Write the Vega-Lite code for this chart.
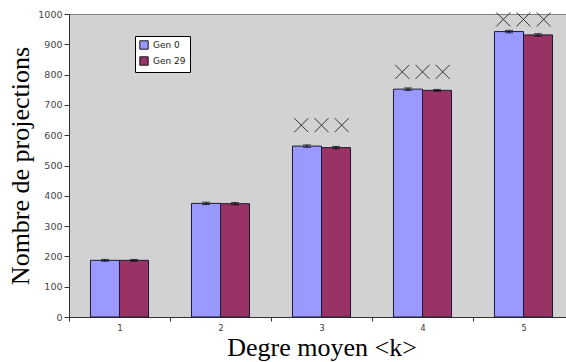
{
  "$schema": "https://vega.github.io/schema/vega-lite/v6.json",
  "autosize": "none",
  "width": 505,
  "height": 303,
  "padding": {"left": 69, "top": 14, "right": 0, "bottom": 45},
  "background": "white",
  "config": {
    "view": {"fill": "#d2d2d2", "stroke": "#808080", "strokeWidth": 1},
    "axis": {"grid": false}
  },
  "datasets": {
    "bars": [
      {"k": "1", "gen": "Gen 0", "value": 187, "lo": 184, "hi": 190},
      {"k": "1", "gen": "Gen 29", "value": 187, "lo": 184, "hi": 190},
      {"k": "2", "gen": "Gen 0", "value": 375, "lo": 371, "hi": 379},
      {"k": "2", "gen": "Gen 29", "value": 374, "lo": 370, "hi": 378},
      {"k": "3", "gen": "Gen 0", "value": 564, "lo": 560, "hi": 568},
      {"k": "3", "gen": "Gen 29", "value": 559, "lo": 555, "hi": 563},
      {"k": "4", "gen": "Gen 0", "value": 752, "lo": 748, "hi": 756},
      {"k": "4", "gen": "Gen 29", "value": 748, "lo": 745, "hi": 751},
      {"k": "5", "gen": "Gen 0", "value": 942, "lo": 938, "hi": 946},
      {"k": "5", "gen": "Gen 29", "value": 931, "lo": 927, "hi": 935}
    ],
    "marks": [
      {"k": "3", "slot": "a", "value": 633},
      {"k": "3", "slot": "b", "value": 633},
      {"k": "3", "slot": "c", "value": 633},
      {"k": "4", "slot": "a", "value": 809},
      {"k": "4", "slot": "b", "value": 809},
      {"k": "4", "slot": "c", "value": 809},
      {"k": "5", "slot": "a", "value": 982},
      {"k": "5", "slot": "b", "value": 982},
      {"k": "5", "slot": "c", "value": 982}
    ]
  },
  "encoding": {
    "x": {
      "field": "k", "type": "ordinal",
      "scale": {"paddingInner": 0, "paddingOuter": 0},
      "axis": {
        "title": "Degre moyen <k>",
        "titleFont": "Liberation Serif", "titleFontSize": 26, "titleFontWeight": "normal",
        "titleColor": "black", "titlePadding": 2,
        "labelAngle": 0, "labelFont": "DejaVu Sans", "labelFontSize": 8, "labelColor": "#333",
        "labelPadding": 3,
        "tickBand": "extent", "tickSize": 4, "tickColor": "#333", "domainColor": "#333"
      }
    }
  },
  "resolve": {"scale": {"xOffset": "independent"}},
  "layer": [
    {
      "data": {"name": "bars"},
      "mark": {"type": "bar", "stroke": "#1a1a33", "strokeWidth": 1},
      "encoding": {
        "xOffset": {"field": "gen", "type": "nominal", "scale": {"paddingInner": 0, "paddingOuter": 0.74}},
        "y": {
          "field": "value", "type": "quantitative",
          "scale": {"domain": [0, 1000], "nice": false},
          "axis": {
            "title": "Nombre de projections",
            "titleFont": "Liberation Serif", "titleFontSize": 26, "titleFontWeight": "normal",
            "titleColor": "black", "titlePadding": 4,
            "values": [0, 100, 200, 300, 400, 500, 600, 700, 800, 900, 1000],
            "format": "d", "labelOverlap": false,
            "labelFont": "DejaVu Sans", "labelFontSize": 9.5, "labelColor": "#444",
            "labelPadding": 2, "tickSize": 5, "tickColor": "#333", "domainColor": "#333"
          }
        },
        "color": {
          "field": "gen", "type": "nominal",
          "scale": {"domain": ["Gen 0", "Gen 29"], "range": ["#9999ff", "#993366"]},
          "legend": {
            "title": null, "orient": "none", "legendX": 66, "legendY": 22,
            "fillColor": "white", "strokeColor": "black", "padding": 4,
            "symbolType": "square", "symbolSize": 70, "symbolStrokeColor": "#111",
            "symbolStrokeWidth": 1,
            "labelFont": "DejaVu Sans", "labelFontSize": 9, "labelColor": "#222",
            "rowPadding": 2
          }
        }
      }
    },
    {
      "data": {"name": "bars"},
      "mark": {"type": "rule", "color": "black", "strokeWidth": 1},
      "encoding": {
        "xOffset": {"field": "gen", "type": "nominal", "scale": {"paddingInner": 0, "paddingOuter": 0.74}},
        "y": {"field": "lo", "type": "quantitative",
          "axis": {
            "title": "Nombre de projections",
            "titleFont": "Liberation Serif", "titleFontSize": 26, "titleFontWeight": "normal",
            "titleColor": "black", "titlePadding": 4,
            "values": [0, 100, 200, 300, 400, 500, 600, 700, 800, 900, 1000],
            "format": "d", "labelOverlap": false,
            "labelFont": "DejaVu Sans", "labelFontSize": 9.5, "labelColor": "#444",
            "labelPadding": 2, "tickSize": 5, "tickColor": "#333", "domainColor": "#333"
          }},
        "y2": {"field": "hi"}
      }
    },
    {
      "data": {"name": "bars"},
      "mark": {"type": "tick", "color": "black", "thickness": 1, "size": 8},
      "encoding": {
        "xOffset": {"field": "gen", "type": "nominal", "scale": {"paddingInner": 0, "paddingOuter": 0.74}},
        "y": {"field": "lo", "type": "quantitative",
          "axis": {
            "title": "Nombre de projections",
            "titleFont": "Liberation Serif", "titleFontSize": 26, "titleFontWeight": "normal",
            "titleColor": "black", "titlePadding": 4,
            "values": [0, 100, 200, 300, 400, 500, 600, 700, 800, 900, 1000],
            "format": "d", "labelOverlap": false,
            "labelFont": "DejaVu Sans", "labelFontSize": 9.5, "labelColor": "#444",
            "labelPadding": 2, "tickSize": 5, "tickColor": "#333", "domainColor": "#333"
          }}
      }
    },
    {
      "data": {"name": "bars"},
      "mark": {"type": "tick", "color": "black", "thickness": 1, "size": 8},
      "encoding": {
        "xOffset": {"field": "gen", "type": "nominal", "scale": {"paddingInner": 0, "paddingOuter": 0.74}},
        "y": {"field": "hi", "type": "quantitative",
          "axis": {
            "title": "Nombre de projections",
            "titleFont": "Liberation Serif", "titleFontSize": 26, "titleFontWeight": "normal",
            "titleColor": "black", "titlePadding": 4,
            "values": [0, 100, 200, 300, 400, 500, 600, 700, 800, 900, 1000],
            "format": "d", "labelOverlap": false,
            "labelFont": "DejaVu Sans", "labelFontSize": 9.5, "labelColor": "#444",
            "labelPadding": 2, "tickSize": 5, "tickColor": "#333", "domainColor": "#333"
          }}
      }
    },
    {
      "data": {"name": "marks"},
      "mark": {"type": "point", "shape": "M-1,-1L1,1M-1,1L1,-1", "size": 196, "stroke": "#333", "strokeWidth": 1, "filled": false, "opacity": 1},
      "encoding": {
        "xOffset": {"field": "slot", "type": "nominal", "scale": {"type": "band", "paddingInner": 0, "paddingOuter": 1.66}},
        "y": {"field": "value", "type": "quantitative",
          "axis": {
            "title": "Nombre de projections",
            "titleFont": "Liberation Serif", "titleFontSize": 26, "titleFontWeight": "normal",
            "titleColor": "black", "titlePadding": 4,
            "values": [0, 100, 200, 300, 400, 500, 600, 700, 800, 900, 1000],
            "format": "d", "labelOverlap": false,
            "labelFont": "DejaVu Sans", "labelFontSize": 9.5, "labelColor": "#444",
            "labelPadding": 2, "tickSize": 5, "tickColor": "#333", "domainColor": "#333"
          }}
      }
    }
  ]
}
